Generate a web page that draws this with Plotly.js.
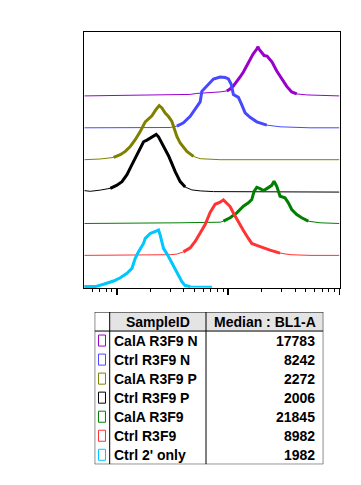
<!DOCTYPE html>
<html><head><meta charset="utf-8">
<script src="https://cdn.plot.ly/plotly-3.0.1.min.js"></script>
<style>html,body{margin:0;padding:0;background:#fff}#chart{width:361px;height:485px}</style>
</head><body><div id="chart"></div>
<script>
// ---- table data ----
const sampleIds = ["CalA R3F9 N", "Ctrl R3F9 N", "CalA R3F9 P", "Ctrl R3F9 P", "CalA R3F9", "Ctrl R3F9", "Ctrl 2' only"];
const medians = [17783, 8242, 2272, 2006, 21845, 8982, 1982];
const headers = ["SampleID", "Median : BL1-A"];
const colors = ["#9900cc", "#4848ff", "#808000", "#000000", "#008000", "#ff3333", "#00c8ff"];

// ---- histogram data (BL1-A intensity, counts above each offset baseline) ----
const xPurple = [508, 1071, 2449, 4557, 5233, 6890, 8477, 9734, 10423, 11159, 11973, 12817, 13725, 14723, 15764, 16776, 18112, 18488, 18990, 20084, 21063, 22406, 23843, 24851, 27394, 30380, 33690, 37360, 41428, 50937, 67080, 100000];
const hPurple = [0, 0.7, 1.3, 1.5, 2.5, 3, 4, 5, 7, 10, 14, 19, 24, 30, 36, 42, 47, 49.3, 47, 43, 40.5, 40, 36, 34, 25, 17, 9.5, 4, 2, 1, 0.3, 0];

const xBlue = [508, 1992, 3012, 3460, 3705, 3966, 4557, 5233, 5604, 5802, 6215, 6890, 7378, 8477, 9400, 10062, 10641, 11159, 12376, 13277, 14220, 15764, 18112, 22270, 29327, 54550, 100000];
const hBlue = [0, 0, 0.3, 1.7, 3.3, 5, 11.6, 21.6, 26, 36.6, 40, 45, 49, 51, 50.5, 49, 44, 33.3, 30.5, 23, 15, 10.5, 6, 2.7, 1, 0, 0];

const xOlive = [508, 708, 932, 1071, 1188, 1317, 1460, 1620, 1796, 1922, 2063, 2255, 2399, 2537, 2716, 2908, 3120, 3460, 3705, 4256, 4878, 5604, 8477, 100000];
const hOlive = [0, 0.7, 2.3, 5, 8.3, 13.3, 20, 28.3, 38, 41, 44, 50.7, 54.3, 52, 46.7, 43.3, 38.3, 23.3, 16.7, 8.3, 3.3, 1, 0, 0];

const xBlack = [508, 575, 708, 871, 1000, 1109, 1230, 1364, 1513, 1620, 1734, 1860, 1992, 2132, 2255, 2365, 2537, 2716, 2908, 3120, 3342, 3705, 4108, 4720, 5604, 7378, 100000];
const hBlack = [1, 0.3, 1.5, 3.3, 6.5, 10, 17, 27, 37, 43.5, 50, 51.7, 53.5, 56, 57.3, 55, 48.5, 43.3, 36, 28, 20, 10, 4.5, 1.7, 0.7, 0, -0.5];

const xGreen = [508, 3400, 3700, 8477, 9075, 10423, 11973, 13725, 15218, 16331, 17126, 18112, 19390, 20760, 22270, 24700, 25903, 27394, 29327, 32517, 34831, 37360, 41428, 45940, 52660, 67080, 100000];
const hGreen = [0, 0, 0.7, 1.3, 2.3, 5.7, 10.7, 17.3, 20.7, 24, 32.3, 36.3, 35, 33, 35, 38.3, 42.3, 37.3, 27.3, 25.7, 20.7, 14, 9, 5.7, 2.3, 0.7, 0];

const xRed = [508, 1317, 1992, 3012, 3460, 3966, 4557, 5052, 5604, 6215, 6890, 7332, 7642, 8477, 9075, 9734, 10423, 11159, 12376, 13725, 15218, 16331, 18112, 20084, 23843, 29327, 36078, 54550, 100000];
const hRed = [0, 0, 0.7, 0.7, 1.3, 3.5, 7.5, 14, 22, 31, 43, 48, 51.3, 53.3, 55.7, 52.3, 49, 42.5, 33, 25, 17, 12, 10, 8, 5.3, 2.3, 0.7, 0, 0];

const xCyan = [508, 638, 758, 932, 1071, 1230, 1364, 1460, 1564, 1734, 1796, 1992, 2180, 2365, 2449, 2622, 2860, 3120, 3460, 3837, 4108, 4557, 7150];
const hCyan = [0.7, 0.7, 3, 6.3, 9.5, 14, 19, 29, 35.7, 44, 49, 54, 55.7, 57.5, 52.3, 39, 32.3, 24, 14, 5.7, 1.7, 0.7, 0.5];

const seriesX = [xPurple, xBlue, xOlive, xBlack, xGreen, xRed, xCyan];
const seriesH = [hPurple, hBlue, hOlive, hBlack, hGreen, hRed, hCyan];
const offsetIndex = [6, 5, 4, 3, 2, 1, 0];
const thickLo = [9734, 3460, 932, 871, 9075, 3705, 508];
const thickHi = [41428, 22270, 5233, 4557, 54550, 29327, 4557];
const STEP = 32;

const traces = [];
for (let i = 0; i < seriesX.length; i++) {
  const xs = seriesX[i];
  const ys = seriesH[i].map(v => v + offsetIndex[i] * STEP);
  traces.push({type: 'scatter', mode: 'lines', x: xs, y: ys, xaxis: 'x', yaxis: 'y',
    line: {color: colors[i], width: i === 6 ? 2 : 1}, hoverinfo: 'skip', showlegend: false});
  const tx = [], ty = [];
  xs.forEach((v, k) => { if (v >= thickLo[i] && v <= thickHi[i]) { tx.push(v); ty.push(ys[k]); } });
  traces.push({type: 'scatter', mode: 'lines', x: tx, y: ty, xaxis: 'x', yaxis: 'y',
    line: {color: colors[i], width: 3}, hoverinfo: 'skip', showlegend: false});
}

// ---- table drawn on its own hidden axes (x2: px units, y2: rows) ----
const colEdges = [0, 15, 111.3, 228.6];
const nRows = sampleIds.length + 1;
const shapes = [];
const annotations = [];
const tfont = {family: 'Liberation Sans, Arial, sans-serif', size: 14, color: '#000', weight: 700};

shapes.push({type: 'rect', xref: 'x2', yref: 'y2', x0: colEdges[1], x1: colEdges[3], y0: 0, y1: 1,
  fillcolor: '#e4e4e4', line: {width: 0}, layer: 'below'});
shapes.push({type: 'rect', xref: 'x2', yref: 'y2', x0: colEdges[0], x1: colEdges[3], y0: 0, y1: nRows,
  line: {color: '#000', width: 1}});
[colEdges[1], colEdges[2]].forEach(c => shapes.push({type: 'line', xref: 'x2', yref: 'y2', x0: c, x1: c, y0: 0, y1: nRows, line: {color: '#000', width: 1}}));
shapes.push({type: 'line', xref: 'x2', yref: 'y2', x0: colEdges[0], x1: colEdges[3], y0: 1, y1: 1, line: {color: '#000', width: 1}});

annotations.push({xref: 'x2', yref: 'y2', x: (colEdges[1] + colEdges[2]) / 2, y: 0.5, text: headers[0], showarrow: false, xanchor: 'center', yanchor: 'middle', font: tfont});
annotations.push({xref: 'x2', yref: 'y2', x: (colEdges[2] + colEdges[3]) / 2, y: 0.5, text: headers[1], showarrow: false, xanchor: 'center', yanchor: 'middle', font: tfont});

sampleIds.forEach((name, i) => {
  const r = i + 1;
  shapes.push({type: 'rect', xref: 'x2', yref: 'y2', x0: 3.8, x1: 10.8, y0: r + 0.21, y1: r + 0.79,
    line: {color: colors[i], width: 1}, fillcolor: 'rgba(0,0,0,0)'});
  annotations.push({xref: 'x2', yref: 'y2', x: colEdges[1] + 2.5, y: r + 0.5, text: name, showarrow: false,
    xanchor: 'left', yanchor: 'middle', font: tfont});
  annotations.push({xref: 'x2', yref: 'y2', x: colEdges[3] - 6.5, y: r + 0.5, text: String(medians[i]), showarrow: false,
    xanchor: 'right', yanchor: 'middle', font: tfont});
});

const layout = {
  width: 361, height: 485,
  margin: {l: 0, r: 0, t: 0, b: 0},
  paper_bgcolor: '#fff', plot_bgcolor: 'rgba(0,0,0,0)',
  showlegend: false,
  xaxis: {type: 'log', range: [2.706, 5.004], domain: [0.2335, 0.941], anchor: 'y',
    showline: true, linecolor: '#000', linewidth: 1, mirror: true,
    ticks: 'outside', ticklen: 6, tickwidth: 1.5, tickcolor: '#000', dtick: 1,
    showticklabels: false, showgrid: false, zeroline: false, fixedrange: true,
    minor: {ticks: 'outside', ticklen: 3, tickwidth: 1, tickcolor: '#000', dtick: 'D1', showgrid: false}},
  yaxis: {range: [-1.2, 256.4], domain: [0.4052, 0.9346], anchor: 'x',
    showline: true, linecolor: '#000', linewidth: 1, mirror: true,
    ticks: '', showticklabels: false, showgrid: false, zeroline: false, fixedrange: true},
  xaxis2: {range: [0, colEdges[3]], domain: [0.2623, 0.8956], anchor: 'y2', visible: false, fixedrange: true},
  yaxis2: {range: [nRows, 0], domain: [0.0427, 0.3567], anchor: 'x2', visible: false, fixedrange: true},
  shapes: shapes,
  annotations: annotations
};

Plotly.newPlot('chart', traces, layout, {staticPlot: true, displayModeBar: false});
</script>
</body></html>
